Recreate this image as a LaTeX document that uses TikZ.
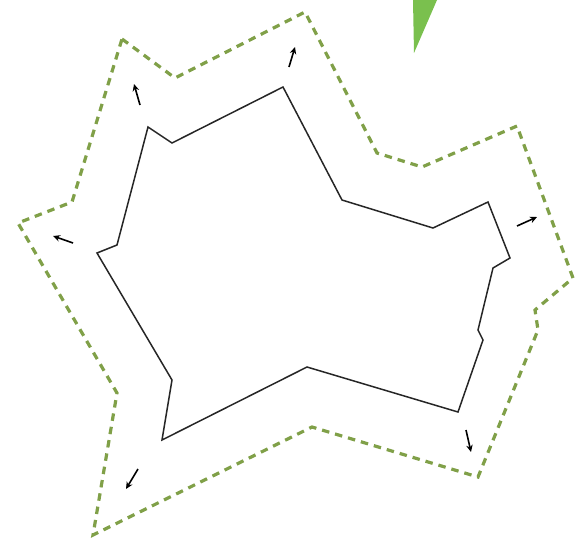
\documentclass[tikz,border=0pt]{standalone}
\usetikzlibrary{arrows.meta}
\definecolor{dashgreen}{RGB}{128,160,72}
\definecolor{wedgegreen}{RGB}{122,192,78}
\tikzset{
  outline/.style={draw=black!85, line width=1.5pt, line join=miter},
  offsetline/.style={draw=dashgreen, line width=3.2pt, dash pattern=on 7.5pt off 6pt},
  growarrow/.style={draw=black, line width=1.6pt, -{Stealth[length=7pt,width=6.5pt]}},
}
\begin{document}
\begin{tikzpicture}[x=1pt,y=-1pt]
\useasboundingbox (0,0) rectangle (576,547);
% green wedge
\fill[wedgegreen] (413,0) -- (437,0) -- (414,53) -- cycle;
% outer dashed offset
\draw[offsetline] (122,39) -- (175,78) -- (305,12) -- (377,153) -- (422,167) -- (517,126)
  -- (573,278) -- (535,310) -- (538,330) -- (478,477) -- (312,427) -- (93,535)
  -- (117,393) -- (18,223) -- (72,202) -- cycle;
% inner outline
\draw[outline] (283,87) -- (342,200) -- (433,228) -- (488,202) -- (510,258) -- (493,268)
  -- (478,330) -- (483,340) -- (458,412) -- (307,367) -- (162,440) -- (172,380)
  -- (97,253) -- (117,245) -- (148,127) -- (172,143) -- cycle;
% arrows
\coordinate (a1s) at (140,105); \coordinate (a1e) at (134,84);
\coordinate (a2s) at (289,67);  \coordinate (a2e) at (295,47);
\coordinate (a3s) at (73,243);  \coordinate (a3e) at (53,236);
\coordinate (a4s) at (517,226); \coordinate (a4e) at (537,217);
\coordinate (a5s) at (466,430); \coordinate (a5e) at (471,452);
\coordinate (a6s) at (138,469); \coordinate (a6e) at (126,489);
\draw[growarrow] (a1s) -- (a1e);
\draw[growarrow] (a2s) -- (a2e);
\draw[growarrow] (a3s) -- (a3e);
\draw[growarrow] (a4s) -- (a4e);
\draw[growarrow] (a5s) -- (a5e);
\draw[growarrow] (a6s) -- (a6e);
\end{tikzpicture}
\end{document}
